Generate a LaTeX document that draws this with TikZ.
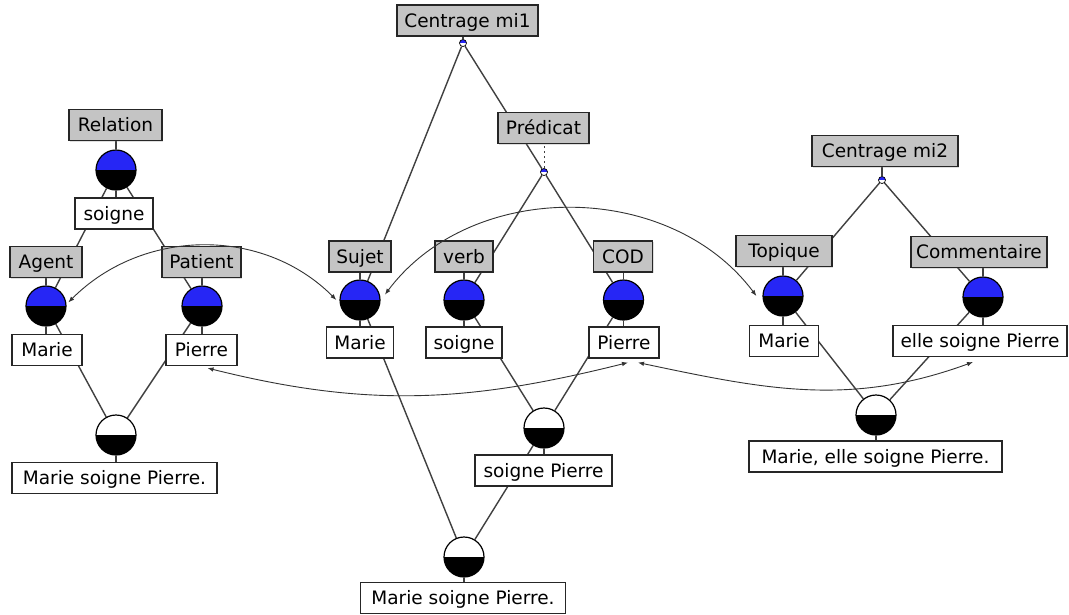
\documentclass[tikz,border=0pt]{standalone}
\usepackage{fontspec}
\setmainfont{DejaVu Sans}
\usetikzlibrary{arrows.meta,shadows,backgrounds}
\definecolor{nodeblue}{RGB}{38,38,245}
\definecolor{labgray}{RGB}{196,196,196}
\definecolor{edgegray}{RGB}{64,64,64}
\begin{document}
\begin{tikzpicture}[x=1pt,y=-1pt,
  font=\fontsize{18.5}{21}\selectfont,
  boxbase/.style={draw=black!85, line width=1.1pt, minimum height=31pt,
    inner xsep=0pt, inner ysep=0pt, text height=16pt, text depth=2.5pt},
  lab/.style={boxbase, fill=labgray, minimum width=#1,
    drop shadow={shadow xshift=1pt,shadow yshift=-1pt,opacity=0.25}},
  val/.style={boxbase, fill=white, minimum width=#1},
  bluedisc/.style={circle, minimum size=40pt, inner sep=0pt, draw=black,
    line width=1.2pt, fill=black,
    path picture={\fill[nodeblue] (path picture bounding box.north west)
      rectangle (path picture bounding box.east);}},
  whitedisc/.style={circle, minimum size=40pt, inner sep=0pt, draw=black,
    line width=1.2pt, fill=black,
    path picture={\fill[white] (path picture bounding box.north west)
      rectangle (path picture bounding box.east);}},
  joint/.style={circle, minimum size=7pt, inner sep=0pt, draw=black,
    line width=0.7pt, fill=white,
    path picture={\fill[nodeblue] (path picture bounding box.north west)
      rectangle (path picture bounding box.east);}},
  link/.style={draw=edgegray, line width=1.4pt},
  ref/.style={draw=black!80, line width=0.9pt,
    {Latex[length=6pt,width=4.5pt]}-{Latex[length=6pt,width=4.5pt]}},
]
\useasboundingbox (0,0) rectangle (1069,614);

% ---------- left structure ----------
\node[lab=93pt] (rel) at (115.5,125) {Relation};
\node[bluedisc] (relc) at (116,170) {};
\node[val=78pt] (soi1) at (114,213.5) {soigne};
\node[lab=72pt] (agt) at (46,262) {Agent};
\node[bluedisc] (agc) at (46,306) {};
\node[val=70pt] (mar1) at (47,350) {Marie};
\node[lab=79pt] (pat) at (201.5,262) {Patient};
\node[bluedisc] (pac) at (202,306) {};
\node[val=71pt] (pie1) at (201.5,350) {Pierre};
\node[whitedisc] (lbc) at (116,435) {};
\node[val=205pt] (lsent) at (114.5,478) {Marie soigne Pierre.};

% ---------- middle structure ----------
\node[lab=141pt] (cm1) at (467.5,20.5) {Centrage mi1};
\node[joint] (d1) at (463,43) {};
\node[lab=91pt] (pred) at (543.5,128) {Prédicat};
\node[joint] (d2) at (544,172) {};
\node[lab=62pt] (suj) at (360,256.5) {Sujet};
\node[bluedisc] (sjc) at (360,300) {};
\node[val=67pt] (mar2) at (360,342.5) {Marie};
\node[lab=58pt] (verb) at (464,256.5) {verb};
\node[bluedisc] (vbc) at (464,300) {};
\node[val=76pt] (soi2) at (464,342.5) {soigne};
\node[lab=59pt] (cod) at (623,256.5) {COD};
\node[bluedisc] (cdc) at (623.5,300) {};
\node[val=70pt] (pie2) at (624,342.5) {Pierre};
\node[whitedisc] (spc) at (544,428) {};
\node[val=137pt] (sp) at (543.5,470.5) {soigne Pierre};
\node[whitedisc] (mbc) at (464,557) {};
\node[val=205pt] (msent) at (463,598) {Marie soigne Pierre.};

% ---------- right structure ----------
\node[lab=146pt] (cm2) at (885,151) {Centrage mi2};
\node[joint] (d3) at (882,180) {};
\node[lab=96pt] (top) at (784,251) {Topique};
\node[bluedisc] (tpc) at (783,296) {};
\node[val=69pt] (mar3) at (784,341) {Marie};
\node[lab=136pt] (com) at (979,252) {Commentaire};
\node[bluedisc] (cmc) at (983,297) {};
\node[val=174pt] (esp) at (980,341) {elle soigne Pierre};
\node[whitedisc] (rbc) at (876,415) {};
\node[val=253pt] (rsent) at (875.5,456.5) {Marie, elle soigne Pierre.};

\begin{pgfonlayer}{background}
  \fill[white] (0,0) rectangle (1069,614);
  % tree edges (centre to centre, hidden behind boxes)
  \draw[link] (d1) -- (sjc);
  \draw[link] (d1) -- (d2);
  \draw[link] (d2) -- (vbc);
  \draw[link] (d2) -- (cdc);
  \draw[link] (sjc) -- (mbc);
  \draw[link] (vbc) -- (spc);
  \draw[link] (cdc) -- (spc);
  \draw[link] (spc) -- (mbc);
  \draw[link] (relc) -- (agc);
  \draw[link] (relc) -- (pac);
  \draw[link] (agc) -- (lbc);
  \draw[link] (pac) -- (lbc);
  \draw[link] (d3) -- (tpc);
  \draw[link] (d3) -- (cmc);
  \draw[link] (tpc) -- (rbc);
  \draw[link] (cmc) -- (rbc);
  % stubs
  \draw[link] (d1) -- (d1 |- cm1.south);
  \draw[link] (d3) -- (d3 |- cm2.south);
  \draw[link, line width=0.9pt, dash pattern=on 2.5pt off 2.5pt] (d2) -- (d2 |- pred.south);
  \draw[link] (relc) -- (relc |- rel.south);
  \draw[link] (relc) -- (relc |- soi1.north);
  \draw[link] (agc) -- (agc |- agt.south);
  \draw[link] (agc) -- (agc |- mar1.north);
  \draw[link] (pac) -- (pac |- pat.south);
  \draw[link] (pac) -- (pac |- pie1.north);
  \draw[link] (lbc) -- (lbc |- lsent.north);
  \draw[link] (sjc) -- (sjc |- suj.south);
  \draw[link] (sjc) -- (sjc |- mar2.north);
  \draw[link] (vbc) -- (vbc |- verb.south);
  \draw[link] (vbc) -- (vbc |- soi2.north);
  \draw[link] (cdc) -- (cdc |- cod.south);
  \draw[link] (cdc) -- (cdc |- pie2.north);
  \draw[link] (spc) -- (spc |- sp.north);
  \draw[link] (mbc) -- (mbc |- msent.north);
  \draw[link] (tpc) -- (tpc |- top.south);
  \draw[link] (tpc) -- (tpc |- mar3.north);
  \draw[link] (cmc) -- (cmc |- com.south);
  \draw[link] (cmc) -- (cmc |- esp.north);
  \draw[link] (rbc) -- (rbc |- rsent.north);
\end{pgfonlayer}

% ---------- coreference arcs ----------
\draw[ref] ([xshift=2pt]agc.10) .. controls +(74,-74) and +(-74,-74) .. ([xshift=-3pt]sjc.west);
\draw[ref] ([xshift=5pt]sjc.15) .. controls +(87,-116) and +(-87,-116) .. ([xshift=-6pt]tpc.west);
\draw[ref] ([xshift=6pt,yshift=-2pt]pie1.south) .. controls +(160,40) and +(-160,40) .. ([xshift=4pt,yshift=-4pt]pie2.south);
\draw[ref] ([xshift=14pt,yshift=-4pt]pie2.south) .. controls +(128,27) and +(-123,45) .. ([xshift=-7pt,yshift=-5pt]esp.south);
\end{tikzpicture}
\end{document}
